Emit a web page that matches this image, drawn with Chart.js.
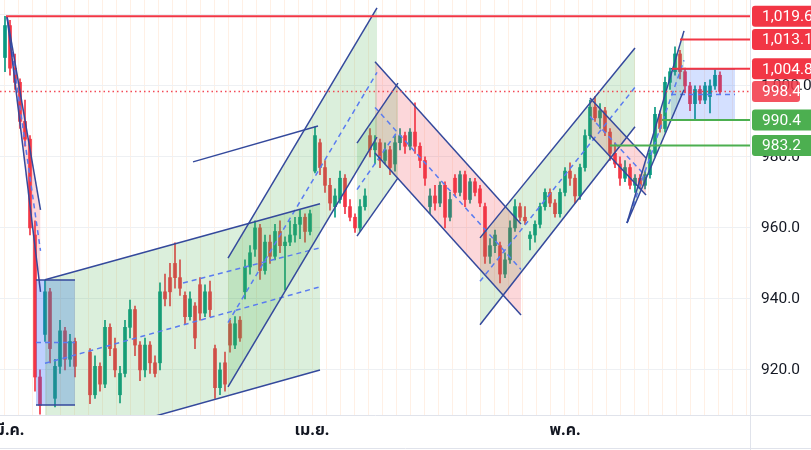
<!DOCTYPE html>
<html>
<head>
<meta charset="utf-8">
<script src="https://cdn.jsdelivr.net/npm/chart.js@4.4.0/dist/chart.umd.min.js"></script>
<style>
  html, body { margin: 0; padding: 0; background: #fff; }
  #wrap { width: 811px; height: 450px; position: relative; }
</style>
</head>
<body>
<div id="wrap"><canvas id="chart"></canvas></div>
<script>
// candles (index = bar number), null = no trading
const openP = [
  1008, 1017, 1005, 1001, 990, 985, 958, 918, 930, 942,
  912, 921, 931, 923, 928, null, null, 925, 913, 921,
  916, 932, 926, 913, 919, 932, 937, 927, 920, 927,
  922, 922, 942, 946, 950, 946, 941, 935, 938, 944,
  936, 942, 926, 915, 922, 933, 927, 934, 942, 949,
  954, 960, 948, 956, 952, 959, 955, 956, 958, 961,
  963, 959, 976, 984, 977, 972, 966, 968, 974, 966,
  963, 960, 966, 986, 982, 984, 979, 982, 978, 984,
  986, 983, 987, 983, 979, 966, 969, 967, 972, 963,
  974, 970, 975, 968, 973, 971, 966, 952, 955, 955,
  947, 951, 960, 966, 963, 957, 958, 961, 966, 970,
  967, 964, 970, 976, 974, 969, 977, 986, 994, 991,
  993, 987, 981, 978, 974, 977, 972, 974, 972, 975,
  981, 992, 988, 1001, 1004, 1009, 1004, 1000, 995, 999,
  996, 997, 1000, 1003
];
const highP = [
  1019.6, 1018.5, 1009, 1002, 996, 986, 962, 920, 945.3, 943,
  923, 934, 932, 930, 929, null, null, 926, 924, 922,
  934, 933, 929, 921, 934, 939.7, 938, 928, 929, 928,
  924, 944.5, 947, 950, 955.8, 951, 942, 942, 939, 946,
  944, 945, 927, 922, 925, 934, 935, 935, 951, 955,
  962, 961, 958, 958, 961, 962, 957.5, 962, 963, 965,
  964, 965, 988.5, 985, 979, 974, 971, 976, 975, 968,
  964, 968, 971, 988, 986, 985, 984, 983, 986, 988,
  987, 988, 995.2, 984, 980, 971, 972, 973, 973, 970,
  975, 976, 976, 974, 974, 972, 967, 957, 959.4, 956,
  953, 962, 968, 967, 966, 959, 962, 967, 971, 971,
  968, 971, 977, 978.3, 975, 978, 987.6, 996, 997, 995,
  994, 988, 984, 980, 979, 978, 975, 975, 976, 982,
  994, 993, 1002.5, 1005, 1011, 1010, 1005, 1001, 1000, 1000,
  1001, 1001.7, 1004.5, 1004
];
const lowP = [
  1004, 1003, 999, 988, 983, 958, 914, 907.5, 928, 922,
  909.6, 919, 920, 921, 918, null, null, 910.5, 912, 914,
  915, 924, 918, 910.7, 918, 929, 924, 917, 918, 919,
  918, 920, 938, 938, 943, 941, 933, 934, 926, 934,
  935, 935, 912, 913, 914, 925, 926, 928, 940, 947,
  952, 945.5, 947, 950, 951, 953, 942.5, 955, 956, 957,
  956, 958, 975.5, 975, 970, 965, 963, 967, 964, 962,
  958.7, 959, 965, 980, 978, 977, 978, 975, 976, 982,
  981, 982, 981, 977, 972, 964, 965, 966, 960, 962,
  969, 969, 966, 967, 969, 966, 950, 950, 953, 944.5,
  946, 950, 959, 962, 961, 953.8, 956, 960, 965, 966,
  963, 963, 969, 972, 967, 968, 976, 985, 990, 988,
  986, 979, 977, 972, 973, 971, 970, 971, 971, 974,
  980, 987, 987, 999, 1003, 1002, 998, 993, 990.4, 995,
  995, 992.4, 999, 997.5
];
const closeP = [
  1017, 1005, 1001, 990, 985, 960, 918, 910, 942, 926,
  921, 931, 923, 928, 921, null, null, 913, 921, 916,
  932, 926, 920, 919, 932, 937, 927, 920, 927, 922,
  919, 942, 940, 942, 946, 943, 935, 940, 929, 936,
  942, 937, 915, 920, 916, 927, 933, 929, 949, 953,
  960, 948, 956, 952, 959, 955, 956, 958, 961, 963,
  959, 964, 986, 977, 972, 967, 969, 974, 966, 963,
  960, 966, 969, 982, 984, 979, 982, 977, 984, 986,
  983, 987, 983, 979, 974, 969, 967, 972, 963, 968,
  970, 975, 968, 973, 970, 967, 952, 955, 958, 947,
  951, 960, 966, 963, 962, 958, 961, 966, 970, 967,
  964, 970, 976, 974, 969, 977, 986, 994, 991, 993,
  987, 981, 978, 974, 977, 972, 974, 972, 975, 981,
  992, 988, 1001, 1004, 1009, 1004, 1000, 995, 999, 996,
  1000, 1000, 1003, 998.4
];

const monthLabels = ['มี.ค.', 'เม.ย.', 'พ.ค.'];
const monthPos = [0.9, 61.4, 112];
const priceTicks = [920, 940, 960, 980, 1000, 1020];

// horizontal levels: price, first bar
const levelValues = [1019.6, 1013.1, 1004.8, 998.4, 990.4, 983.2];
const levelStart = [0.2, 135, 133.4, -1, 131.4, 121];

// channels: [x0, x1, upper0, upper1, lower0, lower1]
const chDrop  = [0.4, 7.1, 1019.6, 965.1, 1019.6, 942.0];
const chWide  = [8, 63, 945.4, 966.8, 898.3, 920.0];
const chSteep = [44.6, 74.4, 951.5, 1022.0, 915.2, 985.6];
const chSmall = [70.4, 78.6, 983.9, 1000.8, 957.7, 974.1];
const chFall  = [74, 103.2, 1006.8, 961.1, 981.1, 935.5];
const chRise  = [95, 126, 957.2, 1010.7, 932.7, 988.5];
const chPull  = [117, 128.2, 996.6, 979.7, 986.2, 969.3];
const chLast  = [124.4, 135.8, 961.4, 1015.5, 961.4, 998.9];
// boxes: [x0, x1, top, bottom]
const boxLeft  = [6.2, 14, 945.35, 910.1];
const boxRight = [133.2, 146, 1004.8, 990.4];
// loose lines: [x0, x1, y0, y1]
const lineTop = [37.6, 62.6, 978.6, 988.7];
const lineQuarter = [35.6, 63, 944.5, 954.4];

const UP = '#089981', DOWN = '#f23645';
const NAVY = '#34499c', MIDBLUE = '#5a7cf0';
const GREEN_FILL = 'rgba(76,175,80,0.2)', RED_FILL = 'rgba(242,54,69,0.2)', BLUE_FILL = 'rgba(41,98,255,0.2)';
const FONT = 'Roboto, "Noto Sans", sans-serif';

const wickData = [], bodyData = [], candleColors = [];
for (let i = 0; i < openP.length; i++) {
  if (openP[i] === null) continue;
  wickData.push({ x: i, y: [lowP[i], highP[i]] });
  bodyData.push({ x: i, y: [Math.min(openP[i], closeP[i]), Math.max(openP[i], closeP[i])] });
  candleColors.push(closeP[i] >= openP[i] ? UP : DOWN);
}

const datasets = [
  { type: 'bar', data: wickData, backgroundColor: candleColors, barThickness: 1, grouped: false, order: 30 },
  { type: 'bar', data: bodyData, backgroundColor: candleColors, barThickness: 3, grouped: false, order: 29 }
];

function seg(x0, x1, y0, y1, color, width, dash, order) {
  return {
    type: 'line', data: [{ x: x0, y: y0 }, { x: x1, y: y1 }],
    borderColor: color, borderWidth: width, borderDash: dash || [],
    pointRadius: 0, fill: false, tension: 0, order: order
  };
}
function addArea(x0, x1, u0, u1, l0, l1, fillColor) {
  datasets.push({ type: 'line', data: [{ x: x0, y: u0 }, { x: x1, y: u1 }], borderColor: 'rgba(0,0,0,0)',
    pointRadius: 0, fill: false, order: 10 });
  datasets.push({ type: 'line', data: [{ x: x0, y: l0 }, { x: x1, y: l1 }], borderColor: 'rgba(0,0,0,0)',
    backgroundColor: fillColor, pointRadius: 0, fill: '-1', order: 10 });
}
function addChannel(c, fillColor) {
  const [x0, x1, u0, u1, l0, l1] = c;
  addArea(x0, x1, u0, u1, l0, l1, fillColor);
  datasets.push(seg(x0, x1, u0, u1, NAVY, 1.5, null, 2));
  datasets.push(seg(x0, x1, l0, l1, NAVY, 1.5, null, 2));
  datasets.push(seg(x0, x1, (u0 + l0) / 2, (u1 + l1) / 2, MIDBLUE, 1.5, [5, 4], 3));
}
function addBox(b, fillColor) {
  const [x0, x1, t, btm] = b;
  addArea(x0, x1, t, t, btm, btm, fillColor);
  datasets.push(seg(x0, x1, t, t, NAVY, 1.5, null, 2));
  datasets.push(seg(x0, x1, btm, btm, NAVY, 1.5, null, 2));
  datasets.push(seg(x0, x1, (t + btm) / 2, (t + btm) / 2, MIDBLUE, 1.5, [5, 4], 3));
}

addChannel(chDrop, RED_FILL);
addChannel(chWide, GREEN_FILL);
addChannel(chSteep, GREEN_FILL);
addChannel(chSmall, GREEN_FILL);
addChannel(chFall, RED_FILL);
addChannel(chRise, GREEN_FILL);
addChannel(chPull, RED_FILL);
addChannel(chLast, GREEN_FILL);
addBox(boxLeft, 'rgba(41,98,255,0.3)');
addBox(boxRight, BLUE_FILL);
datasets.push(seg(lineTop[0], lineTop[1], lineTop[2], lineTop[3], NAVY, 1.5, null, 2));
datasets.push(seg(lineQuarter[0], lineQuarter[1], lineQuarter[2], lineQuarter[3], MIDBLUE, 1.5, [5, 4], 3));

const levelColors = ['#f23645', '#f23645', '#f23645', 'rgba(242,54,69,0.85)', '#4caf50', '#4caf50'];
levelValues.forEach((v, k) => {
  if (k === 3) {
    datasets.push(seg(levelStart[k], 149, v, v, 'rgba(242,54,69,0.9)', 1.5, [1.5, 3], 1));
  } else {
    datasets.push(seg(levelStart[k], 149, v, v, levelColors[k], 2, null, 0));
  }
});

const fmt = v => v.toLocaleString('en-US', { minimumFractionDigits: 1, maximumFractionDigits: 1 });

const overlay = {
  id: 'overlay',
  afterDraw(chart) {
    const ctx = chart.ctx, xs = chart.scales.x, ys = chart.scales.y, area = chart.chartArea;
    ctx.save();
    ctx.strokeStyle = '#e0e3eb';
    ctx.lineWidth = 1;
    ctx.beginPath();
    ctx.moveTo(area.right + 0.5, area.bottom); ctx.lineTo(area.right + 0.5, 450);
    ctx.moveTo(area.right, area.bottom + 0.5); ctx.lineTo(811, area.bottom + 0.5);
    ctx.moveTo(0, 448.5); ctx.lineTo(811, 448.5);
    ctx.stroke();

    ctx.fillStyle = '#131722';
    ctx.font = 'bold 16px "Noto Sans Thai", "Noto Sans", sans-serif';
    ctx.textAlign = 'center';
    ctx.textBaseline = 'middle';
    monthLabels.forEach((t, k) => ctx.fillText(t, xs.getPixelForValue(monthPos[k]), area.bottom + 17));

    ctx.font = '15.5px ' + FONT;
    ctx.textAlign = 'left';
    levelValues.forEach((v, k) => {
      const py = ys.getPixelForValue(v);
      const w = k === 3 ? 48 : 62;
      ctx.fillStyle = levelColors[k];
      ctx.beginPath();
      ctx.roundRect(area.right + 2, py - 10.5, w, 21, 3);
      ctx.fill();
      ctx.fillStyle = '#ffffff';
      ctx.fillText(fmt(v), area.right + 12, py + 1);
    });
    ctx.restore();
  }
};

new Chart(document.getElementById('chart'), {
  type: 'bar',
  data: { datasets: datasets },
  options: {
    responsive: true,
    maintainAspectRatio: false,
    animation: false,
    layout: { padding: 0 },
    plugins: { legend: { display: false }, tooltip: { enabled: false } },
    scales: {
      x: {
        type: 'linear', min: -1, max: 149, offset: false,
        afterBuildTicks: s => {
          const t = [];
          for (let v = -0.14; v < 149; v += 2.8) t.push({ value: v });
          s.ticks = t;
        },
        afterFit: s => { s.height = 35; s.paddingLeft = 0; s.paddingRight = 0; },
        ticks: { display: false },
        grid: { color: 'rgba(255,150,70,0.14)', drawTicks: false, offset: false },
        border: { color: '#e0e3eb' }
      },
      y: {
        type: 'linear', position: 'right', min: 907.3, max: 1024.2, beginAtZero: false,
        afterBuildTicks: s => { s.ticks = priceTicks.map(v => ({ value: v })); },
        afterFit: s => { s.width = 61; s.paddingTop = 0; s.paddingBottom = 0; },
        ticks: { callback: v => fmt(v), color: '#131722', font: { size: 15.5, family: FONT }, padding: 11 },
        grid: { color: '#eef0f3', drawTicks: false },
        border: { color: '#e0e3eb' }
      }
    }
  },
  plugins: [overlay]
});
</script>
</body>
</html>
